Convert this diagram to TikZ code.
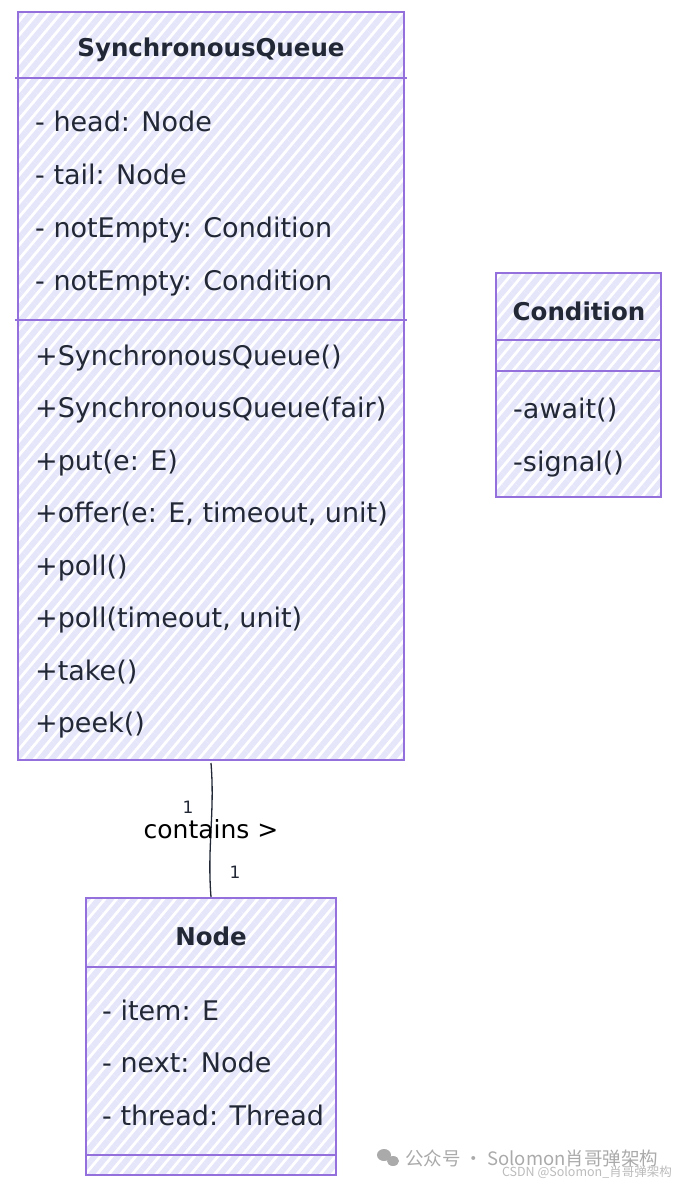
\documentclass[tikz,border=0pt]{standalone}
\usepackage{fontspec}
\setmainfont{DejaVu Sans}
\newfontfamily\cjkfont{Noto Sans CJK SC}
\usetikzlibrary{patterns.meta}
\definecolor{boxline}{HTML}{9370DB}
\definecolor{hatch}{RGB}{230,230,250}
\definecolor{txt}{HTML}{222836}
\definecolor{wmgray}{HTML}{AAAAAA}

\tikzset{
  classbox/.style={draw=boxline, line width=2pt, inner sep=0pt,
    pattern={Lines[angle=50,distance=9pt,line width=6pt]}, pattern color=hatch},
  sepline/.style={draw=boxline, line width=1.6pt},
  title/.style={anchor=base, inner sep=0pt, text=txt, font=\bfseries\fontsize{24.5}{30}\selectfont},
  member/.style={anchor=base west, inner sep=0pt, text=txt, font=\fontsize{27}{30}\selectfont},
  mult/.style={inner sep=0pt, text=txt, font=\fontsize{17}{20}\selectfont}
}

\begin{document}
\begin{tikzpicture}[x=1pt,y=1pt]
  \useasboundingbox (0,0) rectangle (679,-1185);

  % class boxes
  \node[classbox, minimum width=386pt, minimum height=748pt] (queue) at (211,-386) {};
  \node[classbox, minimum width=165pt, minimum height=224pt] (cond) at (578.5,-385) {};
  \node[classbox, minimum width=250pt, minimum height=277pt] (nd) at (211,-1036.5) {};

  % compartments
  \draw[sepline] (queue.west |- 0,-78) -- (queue.east |- 0,-78);
  \draw[sepline] (queue.west |- 0,-320) -- (queue.east |- 0,-320);
  \draw[sepline] (cond.west |- 0,-340) -- (cond.east |- 0,-340);
  \draw[sepline] (cond.west |- 0,-371) -- (cond.east |- 0,-371);
  \draw[sepline] (nd.west |- 0,-967) -- (nd.east |- 0,-967);
  \draw[sepline] (nd.west |- 0,-1155) -- (nd.east |- 0,-1155);

  % SynchronousQueue
  \node[title] (queuename) at (211,-57) {SynchronousQueue};
  \foreach \txt [count=\i from 0] in {- head: Node, - tail: Node, - notEmpty: Condition, - notEmpty: Condition}
    \node[member] (qattr\i) at (35,-132-52.67*\i) {\txt};
  \foreach \txt [count=\i from 0] in {+SynchronousQueue(), +SynchronousQueue(fair), +put(e: E),
      {+offer(e: E, timeout, unit)}, +poll(), {+poll(timeout, unit)}, +take(), +peek()}
    \node[member] (qop\i) at (35,-365-52.57*\i) {\txt};

  % Condition
  \node[title] (condname) at (579,-320) {Condition};
  \node[member] (cop0) at (513,-418) {-await()};
  \node[member] (cop1) at (513,-471) {-signal()};

  % Node
  \node[title] (ndname) at (211,-945) {Node};
  \foreach \txt [count=\i from 0] in {- item: E, - next: Node, - thread: Thread}
    \node[member] (nattr\i) at (102,-1020-52.5*\i) {\txt};

  % association
  \draw[txt, line width=1.3pt] (queue.south) .. controls +(4,-50) and +(-4,50) .. (nd.north);
  \node[mult] (m1) at (188,-807) {1};
  \node[inner sep=0pt, text=black, font=\fontsize{25}{28}\selectfont] (rel) at (211,-829) {contains >};
  \node[mult] (m2) at (235,-872) {1};

  % watermark
  \fill[wmgray] (384,-1155) ellipse (7pt and 6pt);
  \fill[wmgray] (393,-1161) ellipse (6pt and 5pt);
  \node[anchor=west, inner sep=0pt, text=wmgray, font=\cjkfont\fontsize{18.5}{20}\selectfont] (wm1) at (405,-1158) {公众号 · Solomon肖哥弹架构};
  \node[anchor=east, inner sep=0pt, text=wmgray!80!white, font=\cjkfont\fontsize{12.5}{14}\selectfont] (wm2) at (672,-1172) {CSDN @Solomon\_肖哥弹架构};
\end{tikzpicture}
\end{document}
